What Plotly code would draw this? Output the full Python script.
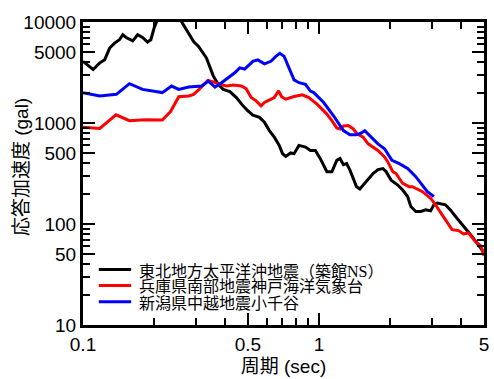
import plotly.graph_objects as go

# ---- data (period in sec, response acceleration in gal) ----
tohoku_period = [0.100, 0.1036, 0.1104, 0.1178, 0.1236, 0.1297, 0.1361, 0.1427, 0.1474, 0.1524,
                 0.1624, 0.1704, 0.1788, 0.1876, 0.1938, 0.2000, 0.2064, 0.220, 0.240, 0.262,
                 0.275, 0.2942, 0.3087, 0.3334, 0.3566, 0.3742, 0.3928, 0.4190, 0.4465, 0.4763,
                 0.4997, 0.5244, 0.5594, 0.5870, 0.6159, 0.6464, 0.6783, 0.7002, 0.7228, 0.7585,
                 0.7837, 0.8224, 0.8764, 0.9196, 0.9650, 1.0125, 1.080, 1.1335, 1.189, 1.228,
                 1.269, 1.3095, 1.352, 1.397, 1.442, 1.489, 1.538, 1.614, 1.694, 1.777,
                 1.865, 1.925, 2.020, 2.155, 2.262, 2.373, 2.449, 2.570, 2.698, 2.831,
                 2.970, 3.066, 3.168, 3.432, 3.601, 3.841, 4.162, 4.440, 4.659, 4.889, 5.0]
tohoku_acc = [4080, 3790, 3385, 3940, 4240, 5520, 6180, 6670, 7470, 7020,
              6510, 7470, 7020, 6325, 6670, 8670, 10470, 14000, 15000, 10000,
              8350, 6410, 5730, 4405, 2910, 2412, 2153, 2046, 1786, 1478,
              1321, 1197, 1137, 1016, 841, 724, 600, 497, 467, 505,
              497, 600, 578, 535, 535, 444, 329, 329, 427, 444,
              387, 396, 341, 282, 234, 222, 243, 282, 316, 346,
              354, 329, 272, 243, 217, 187, 149, 133, 133, 138,
              135, 155, 161, 155, 138, 114, 91.4, 75.7, 65.1, 56, 50]

kobe_period = [0.100, 0.1178, 0.1380, 0.1573, 0.1847, 0.2168, 0.2350, 0.2546, 0.2804, 0.2942,
               0.3087, 0.3240, 0.3380, 0.3566, 0.3742, 0.4055, 0.4325, 0.4685, 0.4910, 0.5159,
               0.5414, 0.5681, 0.5870, 0.6059, 0.6464, 0.6740, 0.6940, 0.7228, 0.7837, 0.8490,
               0.9056, 0.9808, 1.029, 1.080, 1.1335, 1.189, 1.228, 1.270, 1.331, 1.397,
               1.450, 1.538, 1.614, 1.777, 1.894, 1.957, 2.054, 2.120, 2.262, 2.410,
               2.490, 2.743, 2.970, 3.117, 3.325, 3.661, 3.901, 4.094, 4.297, 4.583, 4.856, 5.0]
kobe_acc = [908, 883, 1206, 1054, 1077, 1069, 1297, 1820, 1853, 1923,
            2130, 2412, 2642, 2553, 2440, 2323, 2373, 2323, 2188, 1786,
            1656, 1478, 1596, 1656, 1786, 2083, 1820, 1720, 1827, 1903,
            1786, 1536, 1371, 1225, 1054, 893, 873, 935, 942, 873,
            780, 724, 622, 535, 461, 412, 329, 316, 252, 234,
            234, 209, 180, 155, 123, 87.9, 86, 79.8, 81.6, 67.6, 60.4, 48.5]

niigata_period = [0.100, 0.1178, 0.1385, 0.1573, 0.1788, 0.2168, 0.2373, 0.2546, 0.2804, 0.3186,
                  0.3399, 0.3625, 0.3864, 0.4121, 0.4396, 0.4613, 0.4841, 0.5244, 0.5503, 0.5870,
                  0.6255, 0.6564, 0.6822, 0.7117, 0.7468, 0.7837, 0.8224, 0.8764, 0.9196, 0.9502,
                  1.0464, 1.152, 1.269, 1.352, 1.442, 1.513, 1.562, 1.667, 1.777, 1.894,
                  2.037, 2.189, 2.373, 2.570, 2.743, 2.877, 3.066]
niigata_acc = [2000, 1853, 1923, 2450, 2153, 2000, 2323, 2153, 2270, 2323,
               2600, 2270, 2506, 2805, 3141, 3517, 3422, 4083, 4217, 3857,
               4083, 4568, 4890, 4568, 3517, 2670, 2506, 2412, 2073, 2000,
               1596, 1180, 841, 763, 763, 798, 841, 724, 622, 556,
               427, 396, 354, 294, 243, 209, 187]

series_names = ["東北地方太平洋沖地震（築館NS）", "兵庫県南部地震神戸海洋気象台", "新潟県中越地震小千谷"]
series_colors = ["#000000", "#ff0000", "#0000ff"]

x_tick_vals = [0.1, 0.5, 1, 5]
x_tick_text = ["0.1", "0.5", "1", "5"]
x_minor_vals = [0.2, 0.3, 0.4, 0.6, 0.7, 0.8, 0.9, 2, 3, 4]
y_tick_vals = [10, 50, 100, 500, 1000, 5000, 10000]
y_tick_text = ["10", "50", "100", "500", "1000", "5000", "10000"]
y_minor_vals = [20, 30, 40, 60, 70, 80, 90, 200, 300, 400, 600, 700, 800, 900,
                2000, 3000, 4000, 6000, 7000, 8000, 9000]

x_title = "周期 (sec)"
y_title = "応答加速度 (gal)"

# ---- figure ----
fig = go.Figure()
for xs, ys, name, col in [(tohoku_period, tohoku_acc, series_names[0], series_colors[0]),
                          (kobe_period, kobe_acc, series_names[1], series_colors[1]),
                          (niigata_period, niigata_acc, series_names[2], series_colors[2])]:
    fig.add_trace(go.Scatter(x=xs, y=ys, mode="lines", name=name,
                             line=dict(color=col, width=3), showlegend=False))

FONT = "Liberation Sans, Arial, Noto Sans CJK JP, sans-serif"
CJK = "Noto Sans CJK JP, sans-serif"

axis_common = dict(type="log", showline=True, linecolor="black", linewidth=3,
                   mirror="ticks", ticks="inside", ticklen=12, tickwidth=2, tickcolor="black",
                   showgrid=False, zeroline=False,
                   tickfont=dict(family=FONT, size=19, color="black"))

fig.update_xaxes(range=[-1, 0.69897], tickmode="array", tickvals=x_tick_vals, ticktext=x_tick_text,
                 minor=dict(tickmode="array", tickvals=x_minor_vals, ticks="inside", ticklen=7,
                            tickwidth=2, tickcolor="black", showgrid=False),
                 title=dict(text=x_title, font=dict(family=FONT, size=19, color="black"), standoff=6),
                 **axis_common)
fig.update_yaxes(range=[1, 4], tickmode="array", tickvals=y_tick_vals, ticktext=y_tick_text,
                 minor=dict(tickmode="array", tickvals=y_minor_vals, ticks="inside", ticklen=7,
                            tickwidth=2, tickcolor="black", showgrid=False),
                 **axis_common)

# axis title for y (placed as annotation to control position)
annotations = [dict(text=y_title, textangle=-90, xref="paper", yref="paper", x=-0.153, y=0.52,
                    showarrow=False, xanchor="center", yanchor="middle",
                    font=dict(family=FONT, size=19, color="black"))]

# manual legend (text + line samples) in the lower left of the plot area
legend_rows_y = [0.183, 0.1307, 0.0768]
legend_labels = ["東北地方太平洋沖地震（築館<span style=\"font-family:'Liberation Serif'\">NS</span>）",
                 series_names[1], series_names[2]]
shapes = []
for ly, lab, col in zip(legend_rows_y, legend_labels, series_colors):
    shapes.append(dict(type="line", xref="paper", yref="paper", x0=0.0394, x1=0.12, y0=ly, y1=ly,
                       line=dict(color=col, width=3)))
    annotations.append(dict(text=lab, xref="paper", yref="paper", x=0.1347, y=ly, showarrow=False,
                            xanchor="left", yanchor="middle",
                            font=dict(family=CJK, size=16, color="black")))

fig.update_layout(width=494, height=379, margin=dict(l=83, r=5, t=22, b=51),
                  plot_bgcolor="white", paper_bgcolor="white",
                  annotations=annotations, shapes=shapes)

fig.write_html("out.html", config={"displayModeBar": False},
               post_script="document.body.style.margin='0px';")
